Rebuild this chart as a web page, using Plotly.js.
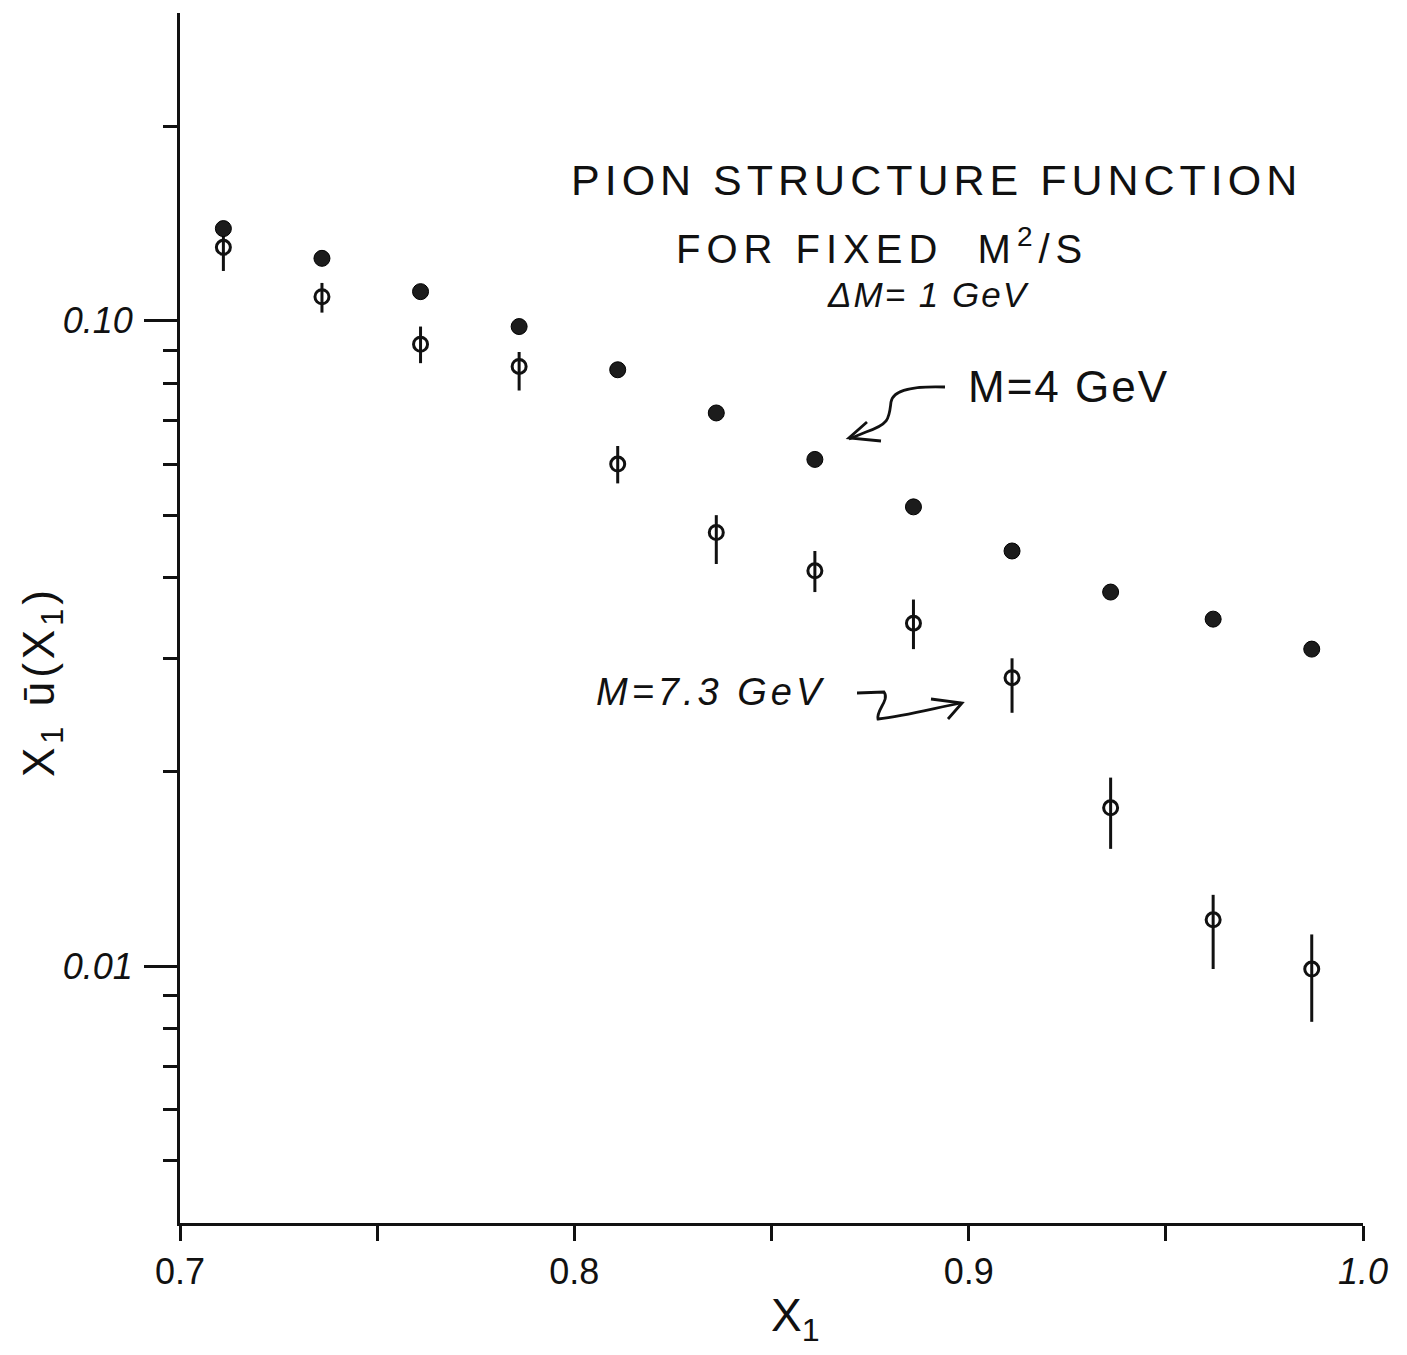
<!DOCTYPE html>
<html>
<head>
<meta charset="utf-8">
<script src="https://cdn.plot.ly/plotly-3.0.1.min.js"></script>
<style>
  html, body { margin: 0; padding: 0; background: #ffffff; }
  #chart { width: 1407px; height: 1355px; }
</style>
</head>
<body>
<div id="chart"></div>
<script>
// ---- data ----
const xValues   = [0.711, 0.736, 0.761, 0.786, 0.811, 0.836, 0.861, 0.886, 0.911, 0.936, 0.962, 0.987];
const m4Values  = [0.139, 0.125, 0.111, 0.098, 0.084, 0.072, 0.061, 0.0515, 0.044, 0.038, 0.0345, 0.031];
const m73Values = [0.130, 0.109, 0.092, 0.085, 0.060, 0.047, 0.041, 0.034, 0.028, 0.0176, 0.0118, 0.0099];
const m73High   = [0.138, 0.1145, 0.098, 0.0895, 0.064, 0.050, 0.044, 0.037, 0.030, 0.0196, 0.0129, 0.0112];
const m73Low    = [0.1195, 0.103, 0.086, 0.078, 0.056, 0.042, 0.038, 0.031, 0.0247, 0.0152, 0.0099, 0.0082];

const xTickVals  = [0.7, 0.8, 0.9, 1.0];
const xTickText  = ['0.7', '0.8', '0.9', '<i>1.0</i>'];
const xMinorVals = [0.75, 0.85, 0.95];
const yTickVals  = [0.01, 0.1];
const yTickText  = ['<i>0.01</i>', '<i>0.10</i>'];
const yMinorVals = [0.005, 0.006, 0.007, 0.008, 0.009, 0.02, 0.03, 0.04, 0.05, 0.06, 0.07, 0.08, 0.09, 0.2];

const titleLine1 = 'PION STRUCTURE FUNCTION';
const titleLine2 = 'FOR FIXED  M<sup>2</sup>/S';
const titleLine3 = 'ΔM= 1 GeV';
const label4   = 'M=4 GeV';
const label73  = 'M=7.3 GeV';
const xTitle   = 'X<sub>1</sub>';
const yTitle   = 'X<sub>1</sub> ū(X<sub>1</sub>)';

// ---- layout geometry ----
const W = 1407, H = 1355;
const margin = {l: 180, r: 44, t: 13, b: 132};
const L = margin.l, R = W - margin.r, T = margin.t, B = H - margin.b;
const px = x => (x - L) / (R - L);
const py = y => (B - y) / (B - T);
const FONT = '"Liberation Sans", "DejaVu Sans", Arial, sans-serif';

const errPlus  = m73High.map((h, i) => h - m73Values[i]);
const errMinus = m73Low.map((l, i) => m73Values[i] - l);

const traces = [
  {
    type: 'scatter', mode: 'markers', name: 'M=7.3 GeV',
    x: xValues, y: m73Values,
    marker: {symbol: 'circle-open', size: 14, color: '#111', line: {width: 3, color: '#111'}},
    error_y: {type: 'data', symmetric: false, array: errPlus, arrayminus: errMinus,
              thickness: 3, width: 0, color: '#111'},
    cliponaxis: false
  },
  {
    type: 'scatter', mode: 'markers', name: 'M=4 GeV',
    x: xValues, y: m4Values,
    marker: {symbol: 'circle', size: 16, color: '#1c1c1c', line: {width: 1, color: '#000'}},
    cliponaxis: false
  }
];

function path(pts) {
  return pts.map((p, i) => {
    if (p[0] === 'C') return 'C ' + px(p[1]) + ' ' + py(p[2]) + ', ' + px(p[3]) + ' ' + py(p[4]) + ', ' + px(p[5]) + ' ' + py(p[6]);
    return (i === 0 ? 'M ' : 'L ') + px(p[0]) + ' ' + py(p[1]);
  }).join(' ');
}

const arrowStyle = {color: '#111', width: 2.8};
const shapes = [
  // curvy arrow for M=4 GeV
  {type: 'path', xref: 'paper', yref: 'paper', line: arrowStyle,
   path: path([[945, 387], ['C', 915, 386, 893, 389, 891, 402], ['C', 889, 418, 890, 424, 866, 432], [849, 439]])},
  {type: 'path', xref: 'paper', yref: 'paper', line: arrowStyle,
   path: path([[867, 422], [849, 438], [881, 441]])},
  // squiggly arrow for M=7.3 GeV
  {type: 'path', xref: 'paper', yref: 'paper', line: arrowStyle,
   path: path([[857, 693], [884, 692], ['C', 890, 700, 876, 710, 878, 719], ['C', 905, 716, 935, 708, 961, 703]])},
  {type: 'path', xref: 'paper', yref: 'paper', line: arrowStyle,
   path: path([[931, 699], [962, 703], [948, 719]])}
];

const ann = (text, x, y, size, spacing, italic, angle) => ({
  xref: 'paper', yref: 'paper', x: px(x), y: py(y), xanchor: 'center', yanchor: 'middle',
  showarrow: false, textangle: angle || 0,
  text: '<span style="letter-spacing:' + spacing + 'px' + (italic ? ';font-style:italic' : '') + '">' + text + '</span>',
  font: {family: FONT, size: size, color: '#111'}
});

const annotations = [
  ann(titleLine1, 936, 180, 43, 5, false),
  ann(titleLine2, 882, 246, 40, 6, false),
  ann(titleLine3, 928, 294, 35, 2, true),
  ann(label4, 1068, 386, 44, 2, false),
  ann(label73, 710, 692, 38, 4, true),
  ann(xTitle, 795, 1318, 46, 0, false),
  ann(yTitle, 42, 682, 44, 4, false, -90)
];

const layout = {
  width: W, height: H,
  margin: margin,
  paper_bgcolor: '#ffffff', plot_bgcolor: '#ffffff',
  showlegend: false,
  font: {family: FONT, color: '#111'},
  xaxis: {
    range: [0.7, 1.0], autorange: false,
    showline: true, linewidth: 3, linecolor: '#111',
    showgrid: false, zeroline: false,
    ticks: 'outside', ticklen: 15, tickwidth: 3, tickcolor: '#111',
    tickmode: 'array', tickvals: xTickVals, ticktext: xTickText,
    tickfont: {family: FONT, size: 36, color: '#111'},
    ticklabelstandoff: 0,
    minor: {tickmode: 'array', tickvals: xMinorVals, ticks: 'outside', ticklen: 15, tickwidth: 3, tickcolor: '#111', showgrid: false}
  },
  yaxis: {
    type: 'log', range: [Math.log10(0.004), Math.log10(0.3)], autorange: false,
    showline: true, linewidth: 3, linecolor: '#111',
    showgrid: false, zeroline: false,
    ticks: 'outside', ticklen: 33, tickwidth: 3, tickcolor: '#111',
    tickmode: 'array', tickvals: yTickVals, ticktext: yTickText,
    tickfont: {family: FONT, size: 36, color: '#111'},
    ticklabelstandoff: 4,
    minor: {tickmode: 'array', tickvals: yMinorVals, ticks: 'outside', ticklen: 14, tickwidth: 3, tickcolor: '#111', showgrid: false}
  },
  shapes: shapes,
  annotations: annotations
};

Plotly.newPlot('chart', traces, layout, {staticPlot: true, displayModeBar: false});
</script>
</body>
</html>
